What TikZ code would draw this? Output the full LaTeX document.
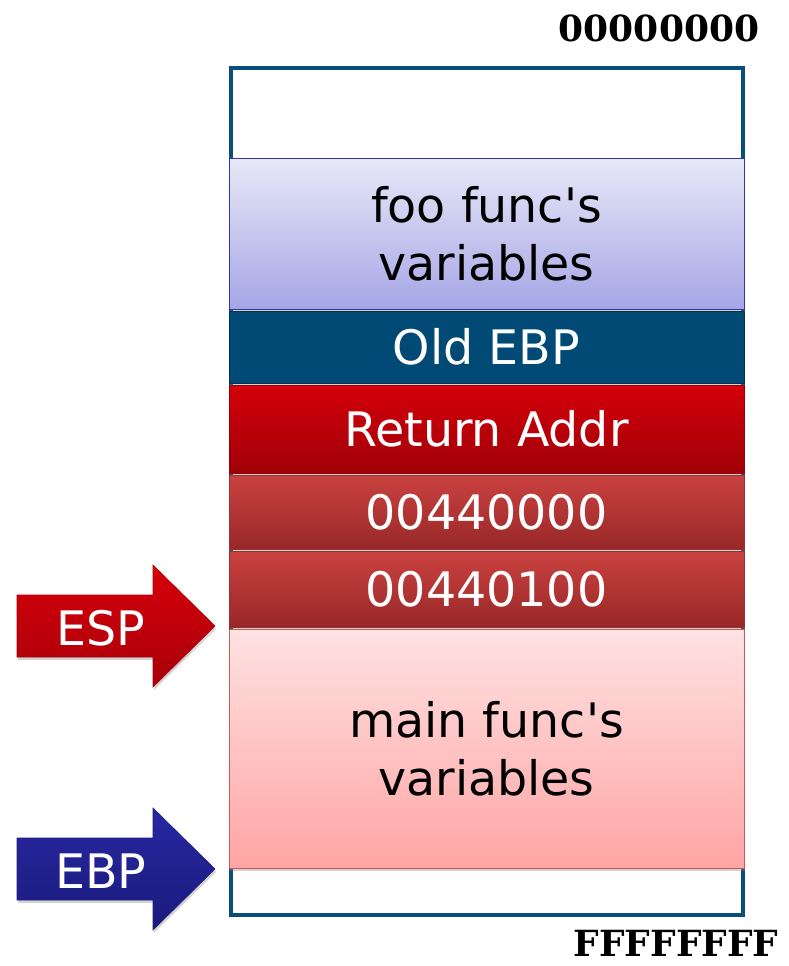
\documentclass[tikz,border=0pt]{standalone}
\usepackage{fontspec}
\setmainfont{DejaVu Sans}
\newfontfamily\addrfont{DejaVu Serif}
\usetikzlibrary{shadows}
\definecolor{frameblue}{HTML}{0B4D7A}
\definecolor{oldebp}{HTML}{004A75}
\begin{document}
\begin{tikzpicture}[x=1pt,y=-1pt,
  band/.style={draw, line width=1pt, minimum width=515pt, inner sep=0pt,
    align=center, font=\fontsize{47.5}{58}\selectfont,
    drop shadow={shadow xshift=1pt, shadow yshift=-2.5pt, opacity=0.35}},
  addr/.style={font=\addrfont\bfseries\fontsize{36}{40}\selectfont, inner sep=0pt},
  regarrow/.style={line width=0.6pt},
  regtext/.style={text=white, font=\fontsize{47.5}{50}\selectfont, inner sep=0pt}]
\useasboundingbox (0,0) rectangle (788,966);

% whole stack region
\draw[frameblue, line width=3.5pt, fill=white] (231,68) rectangle (743,915);

% stack frames, top to bottom
\node[band, draw=blue!55!black!80, top color={rgb,255:red,232;green,232;blue,248},
  bottom color={rgb,255:red,166;green,166;blue,230}, minimum height=151pt]
  (foo) at (486.5,233.5) {foo func\textquotesingle s\\variables};
\node[band, draw=oldebp!70!black, fill=oldebp, text=white, minimum height=72pt]
  (oldebp) at (486.5,347) {Old EBP};
\node[band, draw={rgb,255:red,150;green,0;blue,8}, top color={rgb,255:red,212;green,0;blue,10},
  bottom color={rgb,255:red,160;green,0;blue,8}, text=white, minimum height=88pt]
  (ret) at (486.5,429) {Return Addr};
\node[band, draw={rgb,255:red,150;green,50;blue,50}, top color={rgb,255:red,202;green,66;blue,64},
  bottom color={rgb,255:red,152;green,40;blue,40}, text=white, minimum height=74pt]
  (argA) at (486.5,512) {00440000};
\node[band, draw={rgb,255:red,150;green,50;blue,50}, top color={rgb,255:red,202;green,66;blue,64},
  bottom color={rgb,255:red,152;green,40;blue,40}, text=white, minimum height=76pt]
  (argB) at (486.5,589) {00440100};
\node[band, draw={rgb,255:red,200;green,90;blue,90}, top color={rgb,255:red,255;green,226;blue,226},
  bottom color={rgb,255:red,255;green,164;blue,164}, minimum height=239pt]
  (main) at (486.5,748.5) {main func\textquotesingle s\\variables};

% address labels
\node[addr] (lowaddr) at (659,28) {00000000};
\node[addr] (highaddr) at (676,943) {FFFFFFFF};

% ESP pointer
\shade[regarrow, draw={rgb,255:red,170;green,0;blue,8},
  top color={rgb,255:red,214;green,0;blue,12}, bottom color={rgb,255:red,168;green,0;blue,8},
  drop shadow={shadow xshift=1pt, shadow yshift=-3pt, opacity=0.35}]
  (17,595) -- (153,595) -- (153,565) -- (215,626) -- (153,687) -- (153,657) -- (17,657) -- cycle;
\node[regtext] (esp) at (101,628) {ESP};

% EBP pointer
\shade[regarrow, draw={rgb,255:red,30;green,30;blue,130},
  top color={rgb,255:red,40;green,40;blue,162}, bottom color={rgb,255:red,26;green,26;blue,124},
  drop shadow={shadow xshift=1pt, shadow yshift=-3pt, opacity=0.35}]
  (17,838) -- (153,838) -- (153,808) -- (215,869) -- (153,930) -- (153,900) -- (17,900) -- cycle;
\node[regtext] (ebp) at (101,871) {EBP};
\end{tikzpicture}
\end{document}
